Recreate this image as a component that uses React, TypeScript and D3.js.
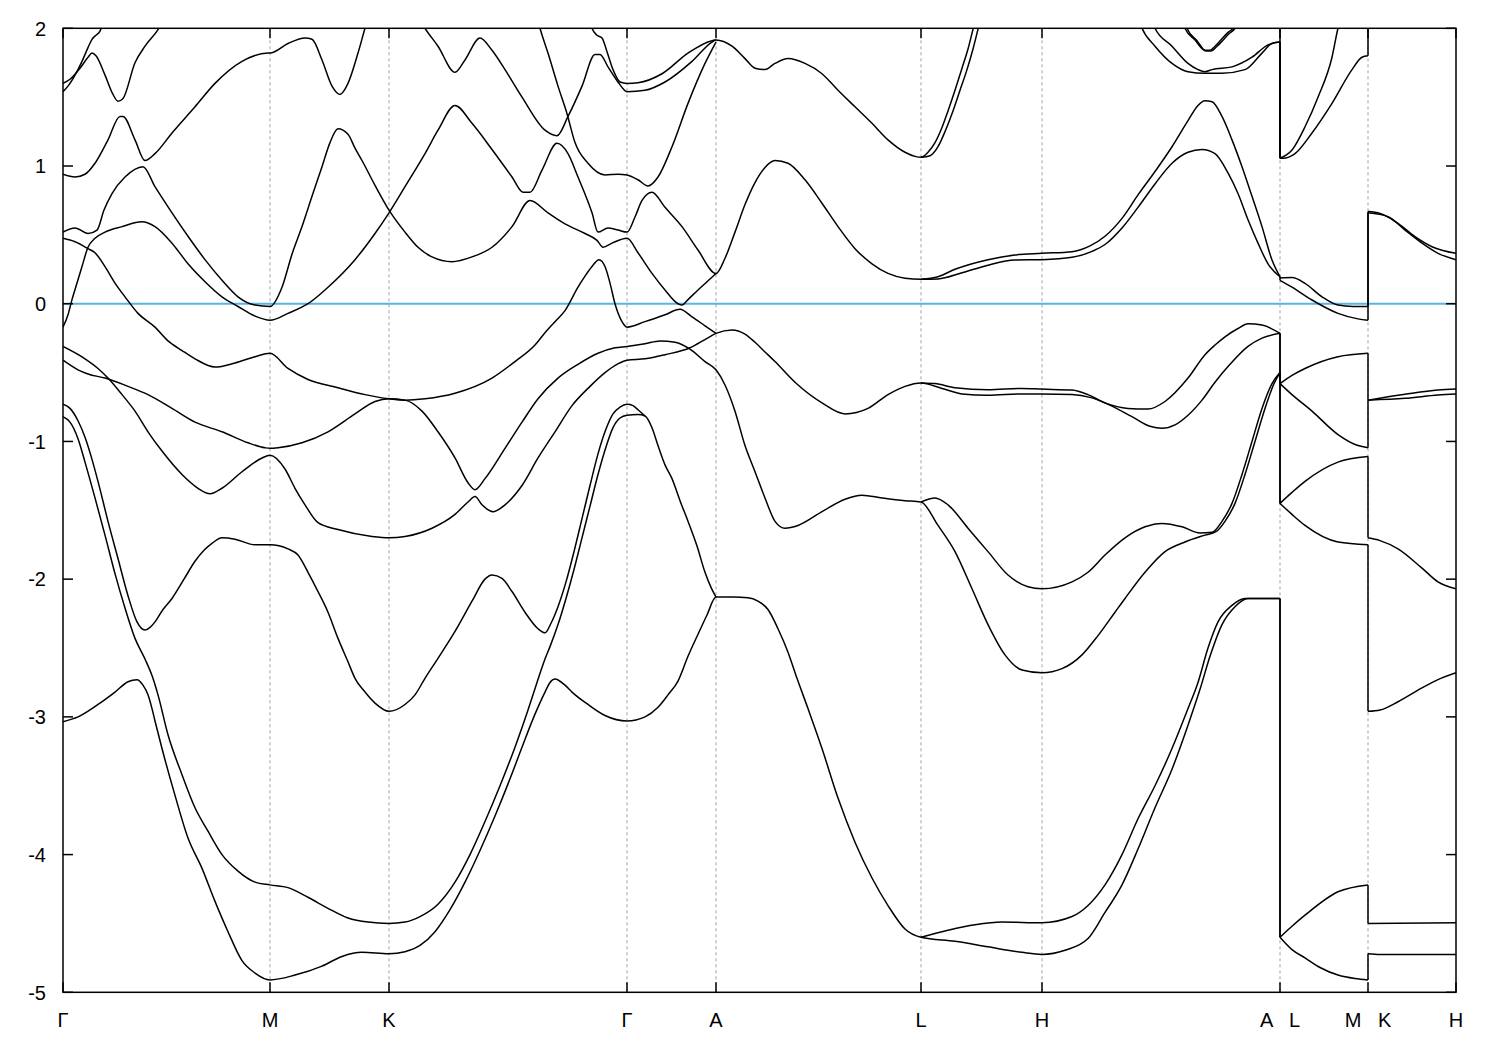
import React from 'react';
import * as d3 from 'd3';

type Pt = [number, number];

// k-path coordinate of high-symmetry points and labels
const kTicks = [0, 2.07, 3.26, 5.64, 6.53, 8.58, 9.79, 12.17, 13.05, 13.93];
const kLabels = ['Γ', 'M', 'K', 'Γ', 'A', 'L', 'H', 'A   L', 'M   K', 'H'];
const eTicks = [-5, -4, -3, -2, -1, 0, 1, 2];
const eDomain: [number, number] = [-5, 2];
const fermiLevel = 0;

// bands: [k, E]; equal consecutive k = discontinuity jump
const b01: Pt[] = [
  [0, -3.035], [0.15, -3.0], [0.35, -2.91], [0.52, -2.82], [0.65, -2.745], [0.74, -2.73], [0.80, -2.77], [0.85, -2.84], [0.89, -2.94], [0.92, -3.03], [0.99, -3.23], [1.12, -3.57], [1.25, -3.88], [1.39, -4.10], [1.52, -4.34], [1.65, -4.56], [1.79, -4.77], [1.92, -4.86], [2.07, -4.91],
  [2.32, -4.875], [2.59, -4.81], [2.79, -4.74], [2.99, -4.71], [3.26, -4.72],
  [3.42, -4.705], [3.57, -4.66], [3.72, -4.56], [3.87, -4.40], [4.02, -4.20], [4.17, -3.97], [4.32, -3.72], [4.47, -3.45], [4.59, -3.22], [4.72, -2.98], [4.82, -2.82], [4.87, -2.75], [4.92, -2.725], [5.02, -2.77], [5.09, -2.82], [5.25, -2.91], [5.42, -2.99], [5.64, -3.03],
  [5.82, -3.0], [5.95, -2.93], [6.05, -2.84], [6.15, -2.74], [6.25, -2.56], [6.35, -2.40], [6.44, -2.26], [6.53, -2.13],
  [6.70, -2.13], [6.85, -2.135], [6.95, -2.16], [7.05, -2.22], [7.15, -2.36], [7.25, -2.53], [7.34, -2.72], [7.45, -2.94], [7.59, -3.23], [7.75, -3.59], [7.92, -3.91], [8.09, -4.17], [8.25, -4.37], [8.42, -4.54], [8.58, -4.60],
  [8.92, -4.63], [9.25, -4.67], [9.59, -4.71], [9.79, -4.725],
  [10.02, -4.695], [10.25, -4.61], [10.42, -4.42], [10.59, -4.22], [10.75, -3.96], [10.92, -3.66], [11.09, -3.38], [11.25, -3.06], [11.37, -2.80], [11.47, -2.56], [11.59, -2.33], [11.72, -2.20], [11.85, -2.14], [12.17, -2.14],
  [12.17, -4.60], [12.29, -4.69], [12.42, -4.75], [12.57, -4.82], [12.75, -4.875], [12.92, -4.90], [13.05, -4.91],
  [13.05, -4.72], [13.17, -4.725], [13.93, -4.725],
];
const b02: Pt[] = [
  [0, -0.82], [0.07, -0.86], [0.15, -0.98], [0.22, -1.15], [0.32, -1.41], [0.42, -1.68], [0.52, -1.96], [0.62, -2.21], [0.72, -2.43], [0.82, -2.58], [0.89, -2.70], [0.95, -2.84], [1.05, -3.13], [1.19, -3.42], [1.32, -3.66], [1.45, -3.83], [1.59, -4.0], [1.75, -4.12], [1.92, -4.20], [2.07, -4.22],
  [2.25, -4.24], [2.45, -4.31], [2.65, -4.39], [2.85, -4.46], [3.05, -4.49], [3.26, -4.50],
  [3.42, -4.49], [3.57, -4.45], [3.75, -4.36], [3.92, -4.20], [4.07, -4.0], [4.22, -3.76], [4.37, -3.50], [4.52, -3.22], [4.65, -2.95], [4.74, -2.75], [4.82, -2.58], [4.87, -2.49], [4.95, -2.33], [5.03, -2.14], [5.11, -1.93], [5.19, -1.70], [5.27, -1.47], [5.35, -1.24], [5.43, -1.04], [5.50, -0.90], [5.57, -0.83], [5.64, -0.81],
  [5.75, -0.805], [5.82, -0.815], [5.89, -0.9], [5.95, -1.03], [6.02, -1.17], [6.09, -1.27], [6.17, -1.43], [6.25, -1.58], [6.34, -1.76], [6.42, -1.95], [6.48, -2.06], [6.53, -2.13],
];
const b02r: Pt[] = [
  [8.58, -4.60], [8.85, -4.55], [9.12, -4.51], [9.39, -4.49], [9.79, -4.495],
  [10.09, -4.45], [10.25, -4.37], [10.42, -4.22], [10.59, -4.0], [10.75, -3.74], [10.92, -3.50], [11.09, -3.23], [11.25, -2.94], [11.35, -2.75], [11.45, -2.50], [11.55, -2.31], [11.69, -2.19], [11.82, -2.14], [12.17, -2.14],
  [12.17, -4.60], [12.29, -4.52], [12.42, -4.44], [12.75, -4.27], [13.05, -4.22],
  [13.05, -4.50], [13.93, -4.495],
];
const b03: Pt[] = [
  [0, -0.73], [0.07, -0.76], [0.15, -0.85], [0.22, -0.97], [0.29, -1.13], [0.35, -1.29], [0.45, -1.58], [0.55, -1.85], [0.65, -2.12], [0.74, -2.31], [0.82, -2.37], [0.87, -2.35], [0.92, -2.31], [1.00, -2.22], [1.09, -2.14], [1.21, -2.0], [1.32, -1.87], [1.41, -1.79], [1.49, -1.74], [1.59, -1.70], [1.72, -1.71], [1.92, -1.75], [2.07, -1.75],
  [2.25, -1.78], [2.35, -1.825], [2.45, -1.95], [2.55, -2.09], [2.65, -2.24], [2.75, -2.43], [2.85, -2.60], [2.92, -2.72], [3.02, -2.82], [3.12, -2.90], [3.26, -2.96],
  [3.42, -2.91], [3.52, -2.84], [3.62, -2.72], [3.75, -2.575], [3.92, -2.38], [4.09, -2.16], [4.22, -2.0], [4.29, -1.97], [4.39, -1.995], [4.49, -2.09], [4.62, -2.24], [4.75, -2.36], [4.82, -2.39], [4.88, -2.32], [4.95, -2.20], [5.03, -2.02], [5.11, -1.80], [5.19, -1.56], [5.27, -1.32], [5.35, -1.09], [5.43, -0.91], [5.50, -0.80], [5.57, -0.75], [5.64, -0.73],
  [5.70, -0.74], [5.75, -0.77], [5.82, -0.815],
];
const b03r: Pt[] = [
  [8.58, -1.44], [8.72, -1.41], [8.85, -1.46], [9.05, -1.63], [9.25, -1.80], [9.45, -1.97], [9.65, -2.055], [9.79, -2.07],
  [10.09, -2.02], [10.25, -1.95], [10.42, -1.825], [10.62, -1.70], [10.82, -1.62], [10.99, -1.595], [11.19, -1.62], [11.37, -1.665], [11.49, -1.66], [11.59, -1.58], [11.69, -1.45], [11.79, -1.24], [11.89, -1.0], [11.99, -0.76], [12.09, -0.58], [12.17, -0.50],
  [12.17, -1.45], [12.29, -1.37], [12.42, -1.29], [12.75, -1.15], [13.05, -1.11],
  [13.05, -1.70], [13.17, -1.72], [13.35, -1.78], [13.59, -1.92], [13.75, -2.02], [13.93, -2.07],
];
const b04: Pt[] = [
  [0, -0.31], [0.22, -0.40], [0.35, -0.47], [0.45, -0.54], [0.59, -0.66], [0.72, -0.78], [0.85, -0.93], [0.99, -1.07], [1.19, -1.24], [1.35, -1.34], [1.47, -1.38], [1.59, -1.34], [1.79, -1.22], [1.99, -1.12], [2.07, -1.10],
  [2.22, -1.20], [2.32, -1.34], [2.42, -1.46], [2.55, -1.59], [2.75, -1.64], [3.09, -1.69], [3.26, -1.70],
  [3.42, -1.69], [3.69, -1.63], [3.92, -1.53], [4.05, -1.44], [4.12, -1.40], [4.19, -1.46], [4.30, -1.51], [4.42, -1.46], [4.59, -1.32], [4.75, -1.12], [4.92, -0.93], [5.09, -0.74], [5.27, -0.60], [5.42, -0.50], [5.54, -0.44], [5.64, -0.41],
  [5.82, -0.40], [6.02, -0.37], [6.27, -0.32], [6.42, -0.26], [6.53, -0.215],
  [6.69, -0.19], [6.82, -0.22], [6.92, -0.28], [7.02, -0.35], [7.12, -0.42], [7.32, -0.57], [7.59, -0.72], [7.82, -0.80], [8.05, -0.76], [8.25, -0.66], [8.42, -0.60], [8.58, -0.575],
  [8.79, -0.615], [8.99, -0.655], [9.25, -0.665], [9.59, -0.655], [9.79, -0.655],
  [10.09, -0.66], [10.27, -0.68], [10.42, -0.72], [10.69, -0.82], [10.87, -0.89], [10.99, -0.905], [11.12, -0.88], [11.25, -0.81], [11.39, -0.70], [11.52, -0.57], [11.67, -0.44], [11.85, -0.31], [11.99, -0.25], [12.17, -0.215],
  [12.17, -0.58], [12.29, -0.66], [12.49, -0.78], [12.75, -0.95], [12.95, -1.03], [13.05, -1.046],
  [13.05, -0.70], [13.42, -0.687], [13.75, -0.663], [13.93, -0.655],
];
const b05: Pt[] = [
  [0, -0.41], [0.15, -0.48], [0.25, -0.51], [0.42, -0.54], [0.65, -0.60], [0.85, -0.66], [1.09, -0.76], [1.32, -0.86], [1.59, -0.93], [1.85, -1.01], [2.02, -1.046], [2.07, -1.05], [2.15, -1.046], [2.39, -1.01], [2.65, -0.93], [2.92, -0.80], [3.12, -0.71], [3.26, -0.69],
  [3.42, -0.70], [3.59, -0.78], [3.75, -0.93], [3.92, -1.12], [4.05, -1.30], [4.12, -1.35], [4.22, -1.27], [4.42, -1.05], [4.59, -0.86], [4.75, -0.69], [4.95, -0.54], [5.15, -0.44], [5.35, -0.36], [5.52, -0.32], [5.64, -0.31],
  [5.82, -0.29], [5.97, -0.27], [6.12, -0.28], [6.27, -0.33], [6.42, -0.42], [6.53, -0.48],
  [6.62, -0.59], [6.72, -0.78], [6.82, -1.03], [6.92, -1.22], [7.02, -1.41], [7.12, -1.58], [7.22, -1.63], [7.35, -1.61], [7.59, -1.51], [7.82, -1.42], [7.99, -1.39], [8.19, -1.41], [8.42, -1.43], [8.58, -1.44],
  [8.75, -1.61], [8.92, -1.80], [9.09, -2.07], [9.25, -2.33], [9.42, -2.55], [9.59, -2.66], [9.79, -2.68],
  [9.99, -2.65], [10.19, -2.55], [10.35, -2.41], [10.52, -2.24], [10.62, -2.14], [10.82, -1.95], [11.02, -1.80], [11.22, -1.73], [11.42, -1.68], [11.53, -1.655], [11.62, -1.58], [11.72, -1.45], [11.82, -1.24], [11.92, -1.0], [12.02, -0.76], [12.11, -0.58], [12.17, -0.50],
  [12.17, -1.45], [12.29, -1.53], [12.42, -1.61], [12.75, -1.73], [13.05, -1.75],
  [13.05, -2.96], [13.17, -2.95], [13.35, -2.89], [13.59, -2.79], [13.75, -2.73], [13.93, -2.68],
];
const b06: Pt[] = [
  [0, 0.475], [0.12, 0.45], [0.25, 0.40], [0.32, 0.37], [0.42, 0.27], [0.52, 0.15], [0.62, 0.05], [0.75, -0.07], [0.92, -0.17], [1.05, -0.27], [1.19, -0.34], [1.32, -0.40], [1.52, -0.46], [1.72, -0.43], [1.92, -0.385], [2.07, -0.36],
  [2.25, -0.47], [2.45, -0.55], [2.75, -0.61], [3.02, -0.66], [3.26, -0.69],
  [3.42, -0.70], [3.62, -0.69], [3.92, -0.65], [4.29, -0.54], [4.52, -0.42], [4.72, -0.30], [4.82, -0.21], [4.92, -0.13], [5.02, -0.05], [5.15, 0.12], [5.22, 0.20], [5.29, 0.27], [5.36, 0.32], [5.42, 0.27], [5.47, 0.15], [5.52, 0.0], [5.59, -0.13], [5.64, -0.17],
  [5.82, -0.13], [6.02, -0.08], [6.17, -0.04], [6.29, -0.095], [6.42, -0.16], [6.53, -0.215],
];
const b06r: Pt[] = [
  [8.58, -0.575], [8.72, -0.58], [8.92, -0.61], [9.25, -0.625], [9.59, -0.615], [9.79, -0.62],
  [10.09, -0.627], [10.25, -0.66], [10.42, -0.72], [10.65, -0.76], [10.85, -0.765], [11.02, -0.71], [11.25, -0.54], [11.42, -0.37], [11.52, -0.30], [11.62, -0.24], [11.75, -0.18], [11.85, -0.145], [11.99, -0.155], [12.17, -0.215],
  [12.17, -0.58], [12.29, -0.52], [12.42, -0.47], [12.75, -0.385], [13.05, -0.36],
  [13.05, -0.70], [13.42, -0.658], [13.75, -0.627], [13.93, -0.62],
];
const b07: Pt[] = [
  [0, -0.17], [0.05, -0.08], [0.09, 0.03], [0.14, 0.15], [0.19, 0.27], [0.25, 0.41], [0.32, 0.475], [0.42, 0.52], [0.59, 0.56], [0.79, 0.595], [0.92, 0.56], [1.09, 0.44], [1.25, 0.29], [1.42, 0.16], [1.59, 0.05], [1.75, -0.02], [1.92, -0.09], [2.07, -0.12],
  [2.25, -0.07], [2.45, 0.0], [2.65, 0.12], [2.92, 0.32], [3.12, 0.51], [3.26, 0.66],
  [3.42, 0.85], [3.62, 1.09], [3.75, 1.26], [3.92, 1.44], [4.09, 1.31], [4.29, 1.12], [4.49, 0.92], [4.60, 0.81], [4.67, 0.81], [4.79, 0.97], [4.94, 1.165], [5.05, 1.09], [5.15, 0.92], [5.29, 0.66], [5.35, 0.52], [5.45, 0.55], [5.55, 0.535], [5.64, 0.52],
  [5.72, 0.63], [5.79, 0.75], [5.89, 0.81], [6.02, 0.70], [6.19, 0.56], [6.35, 0.39], [6.53, 0.22],
  [6.62, 0.33], [6.72, 0.52], [6.82, 0.72], [6.92, 0.88], [7.02, 0.99], [7.12, 1.04], [7.25, 1.02], [7.42, 0.90], [7.59, 0.73], [7.75, 0.56], [7.92, 0.40], [8.09, 0.29], [8.25, 0.22], [8.42, 0.185], [8.58, 0.177],
  [8.75, 0.18], [8.99, 0.225], [9.25, 0.28], [9.52, 0.317], [9.79, 0.32],
  [10.09, 0.337], [10.29, 0.38], [10.42, 0.43], [10.59, 0.55], [10.75, 0.70], [10.92, 0.87], [11.09, 1.02], [11.25, 1.10], [11.39, 1.12], [11.52, 1.09], [11.65, 0.95], [11.75, 0.80], [11.85, 0.61], [11.95, 0.44], [12.05, 0.29], [12.17, 0.196],
  [12.17, 0.17], [12.29, 0.12], [12.49, 0.027], [12.75, -0.07], [12.95, -0.11], [13.05, -0.12],
  [13.05, 0.66], [13.25, 0.632], [13.42, 0.535], [13.59, 0.44], [13.75, 0.366], [13.93, 0.32],
];
const b08: Pt[] = [
  [0, 0.52], [0.12, 0.55], [0.25, 0.51], [0.34, 0.535], [0.41, 0.68], [0.49, 0.80], [0.62, 0.92], [0.80, 0.995], [0.92, 0.85], [1.09, 0.66], [1.25, 0.49], [1.42, 0.32], [1.59, 0.17], [1.75, 0.05], [1.92, -0.01], [2.07, -0.02],
  [2.19, 0.12], [2.29, 0.36], [2.39, 0.56], [2.49, 0.78], [2.59, 0.995], [2.67, 1.17], [2.75, 1.27], [2.85, 1.23], [2.92, 1.13], [2.99, 1.04], [3.12, 0.86], [3.26, 0.68],
  [3.42, 0.52], [3.55, 0.41], [3.69, 0.34], [3.89, 0.305], [4.09, 0.34], [4.29, 0.41], [4.49, 0.56], [4.67, 0.75], [4.85, 0.66], [5.02, 0.58], [5.22, 0.51], [5.34, 0.46], [5.40, 0.41], [5.49, 0.44], [5.64, 0.475],
  [5.75, 0.37], [5.89, 0.22], [6.02, 0.10], [6.15, 0.0], [6.19, -0.01], [6.25, 0.03], [6.35, 0.10], [6.44, 0.16], [6.53, 0.22],
];
const b08r: Pt[] = [
  [8.58, 0.177], [8.75, 0.196], [8.92, 0.25], [9.25, 0.32], [9.52, 0.354], [9.79, 0.366],
  [10.09, 0.378], [10.27, 0.42], [10.42, 0.49], [10.59, 0.62], [10.75, 0.79], [10.92, 0.96], [11.09, 1.14], [11.25, 1.33], [11.35, 1.44], [11.42, 1.474], [11.49, 1.467], [11.59, 1.36], [11.69, 1.19], [11.79, 0.995], [11.89, 0.78], [11.99, 0.56], [12.09, 0.317], [12.17, 0.196],
  [12.17, 0.187], [12.29, 0.19], [12.42, 0.148], [12.59, 0.05], [12.75, -0.01], [12.90, -0.02], [13.05, -0.02],
  [13.05, 0.67], [13.17, 0.656], [13.35, 0.584], [13.52, 0.487], [13.69, 0.414], [13.93, 0.366],
];
const b09: Pt[] = [
  [0, 0.94], [0.12, 0.92], [0.22, 0.94], [0.32, 1.02], [0.45, 1.19], [0.57, 1.36], [0.60, 1.36], [0.72, 1.19], [0.82, 1.04], [0.92, 1.09], [1.09, 1.24], [1.32, 1.43], [1.52, 1.60], [1.79, 1.76], [2.05, 1.82], [2.07, 1.82],
  [2.25, 1.89], [2.42, 1.93], [2.49, 1.92], [2.59, 1.77], [2.69, 1.58], [2.77, 1.52], [2.85, 1.60], [2.95, 1.82], [3.02, 2.0], [3.07, 2.12],
];
const b10: Pt[] = [
  [0, 1.6], [0.07, 1.63], [0.17, 1.71], [0.25, 1.79], [0.29, 1.82], [0.33, 1.80], [0.42, 1.66], [0.50, 1.52], [0.55, 1.47], [0.60, 1.49], [0.72, 1.75], [0.82, 1.87], [0.95, 1.99], [1.02, 2.08],
];
const b11: Pt[] = [
  [0, 1.54], [0.05, 1.58], [0.12, 1.66], [0.19, 1.76], [0.25, 1.86], [0.29, 1.92], [0.33, 1.95], [0.37, 1.98], [0.41, 2.06],
];
const b12: Pt[] = [
  [3.47, 2.2], [3.62, 2.0], [3.75, 1.87], [3.92, 1.68], [4.02, 1.77], [4.17, 1.93], [4.29, 1.84], [4.42, 1.70], [4.59, 1.50], [4.82, 1.26], [4.94, 1.22], [5.05, 1.36], [5.19, 1.58], [5.32, 1.81], [5.37, 1.81], [5.45, 1.72], [5.55, 1.61], [5.64, 1.54],
  [5.82, 1.55], [6.02, 1.61], [6.29, 1.76], [6.49, 1.90], [6.53, 1.915],
  [6.69, 1.87], [6.82, 1.78], [6.92, 1.71], [7.02, 1.70], [7.12, 1.745], [7.25, 1.78], [7.42, 1.745], [7.59, 1.67], [7.75, 1.55], [7.92, 1.43], [8.09, 1.31], [8.25, 1.19], [8.42, 1.10], [8.52, 1.07], [8.58, 1.063],
  [8.65, 1.10], [8.72, 1.17], [8.79, 1.28], [8.85, 1.40], [8.92, 1.55], [8.99, 1.71], [9.05, 1.85], [9.11, 2.02], [9.15, 2.12],
];
const b13: Pt[] = [
  [5.24, 2.15], [5.29, 2.0], [5.34, 1.95], [5.39, 1.93], [5.44, 1.83], [5.50, 1.70], [5.57, 1.61], [5.64, 1.60], [5.75, 1.605], [5.99, 1.67], [6.25, 1.82], [6.49, 1.91], [6.53, 1.915],
];
const b13r: Pt[] = [
  [8.58, 1.063], [8.67, 1.075], [8.75, 1.14], [8.82, 1.25], [8.89, 1.38], [8.97, 1.55], [9.04, 1.70], [9.10, 1.85], [9.16, 2.02], [9.20, 2.12],
];
const b14: Pt[] = [
  [4.70, 2.2], [4.77, 2.0], [4.85, 1.82], [4.95, 1.58], [5.04, 1.38], [5.12, 1.17], [5.25, 1.02], [5.42, 0.935], [5.55, 0.94], [5.64, 0.935], [5.75, 0.90], [5.85, 0.855], [5.95, 0.92], [6.09, 1.14], [6.25, 1.455], [6.42, 1.745], [6.53, 1.90],
];
const b15: Pt[] = [
  [10.72, 2.15], [10.79, 2.0], [10.92, 1.87], [11.09, 1.745], [11.25, 1.685], [11.42, 1.674], [11.59, 1.674], [11.82, 1.70], [11.99, 1.82], [12.09, 1.89], [12.17, 1.90],
  [12.17, 1.056], [12.20, 1.056], [12.32, 1.09], [12.49, 1.24], [12.69, 1.455], [12.89, 1.70], [12.99, 1.79], [13.05, 1.80],
  [13.05, 2.3], [13.93, 2.3],
];
const b16: Pt[] = [
  [10.85, 2.15], [10.92, 2.0], [11.09, 1.87], [11.25, 1.745], [11.35, 1.70], [11.42, 1.685], [11.49, 1.70], [11.69, 1.72], [11.89, 1.79], [12.05, 1.88], [12.17, 1.90],
  [12.17, 1.056], [12.29, 1.116], [12.42, 1.285], [12.55, 1.50], [12.69, 1.79], [12.75, 2.0], [12.79, 2.1],
];
const b17: Pt[] = [
  [11.17, 2.15], [11.22, 2.0], [11.32, 1.915], [11.42, 1.84], [11.47, 1.84], [11.52, 1.87], [11.65, 1.97], [11.70, 2.0], [11.80, 2.2], [12.17, 2.5], [12.17, 1.056],
];
const b18: Pt[] = [
  [11.19, 2.15], [11.24, 2.0], [11.34, 1.91], [11.43, 1.835], [11.48, 1.835], [11.54, 1.87], [11.66, 1.96], [11.72, 2.0], [11.78, 2.1],
];

const bands: Pt[][] = [b01, b02, b02r, b03, b03r, b04, b05, b06, b06r, b07, b08, b08r, b09, b10, b11, b12, b13, b13r, b14, b15, b16, b17, b18];

function splitBand(band: Pt[]) {
  const segs: Pt[][] = [];
  const jumps: [Pt, Pt][] = [];
  let cur: Pt[] = [band[0]];
  for (let i = 1; i < band.length; i++) {
    const p = band[i];
    const q = band[i - 1];
    if (p[0] === q[0]) {
      segs.push(cur);
      jumps.push([q, p]);
      cur = [p];
    } else {
      cur.push(p);
    }
  }
  segs.push(cur);
  return { segs: segs.filter((s) => s.length > 1), jumps };
}

export default function App() {
  const left = 63;
  const right = 1456;
  const top = 28.3;
  const bottom = 992.3;
  const x = d3.scaleLinear().domain([kTicks[0], kTicks[kTicks.length - 1]]).range([left, right]);
  const y = d3.scaleLinear().domain(eDomain).range([bottom, top]);
  const smooth = d3.line<Pt>().x((d) => x(d[0])).y((d) => y(d[1])).curve(d3.curveMonotoneX);
  const straight = d3.line<Pt>().x((d) => x(d[0])).y((d) => y(d[1]));
  const tickLen = 10;
  const font = "'Liberation Sans', Arial, Helvetica, sans-serif";

  const paths: string[] = [];
  bands.forEach((b) => {
    const { segs, jumps } = splitBand(b);
    segs.forEach((s) => paths.push(smooth(s) as string));
    jumps.forEach((j) => paths.push(straight(j) as string));
  });

  return (
    <svg
      width={1500}
      height={1050}
      style={{ position: 'absolute', left: 0, top: 0, background: '#ffffff' }}
      fontFamily={font}
    >
      <rect x={0} y={0} width={1500} height={1050} fill="#ffffff" />
      <defs>
        <clipPath id="plotClip">
          <rect x={left} y={top} width={right - left} height={bottom - top} />
        </clipPath>
      </defs>
      {kTicks.slice(1, -1).map((k, i) => (
        <line key={'g' + i} x1={x(k)} x2={x(k)} y1={top} y2={bottom} stroke="#a0a0a0" strokeWidth={1} strokeDasharray="3,3" />
      ))}
      <line x1={left} x2={right} y1={y(fermiLevel)} y2={y(fermiLevel)} stroke="#56b4e9" strokeWidth={2} />
      <g clipPath="url(#plotClip)" fill="none" stroke="#000" strokeWidth={1.5} strokeLinejoin="round">
        {paths.map((d, i) => (
          <path key={'b' + i} d={d} />
        ))}
      </g>
      <rect x={left} y={top} width={right - left} height={bottom - top} fill="none" stroke="#000" strokeWidth={1.5} />
      {eTicks.map((e) => (
        <g key={'y' + e}>
          <line x1={left} x2={left + tickLen} y1={y(e)} y2={y(e)} stroke="#000" strokeWidth={1.5} />
          <line x1={right - tickLen} x2={right} y1={y(e)} y2={y(e)} stroke="#000" strokeWidth={1.5} />
          <text x={left - 17} y={y(e)} dy="0.36em" textAnchor="end" fontSize={20} fill="#000">
            {String(e)}
          </text>
        </g>
      ))}
      {kTicks.map((k, i) => (
        <g key={'x' + i}>
          <line x1={x(k)} x2={x(k)} y1={bottom} y2={bottom - tickLen} stroke="#000" strokeWidth={1.5} />
          <line x1={x(k)} x2={x(k)} y1={top} y2={top + tickLen} stroke="#000" strokeWidth={1.5} />
          <text
            x={x(k)}
            y={bottom + 35}
            textAnchor="middle"
            fontSize={20}
            fill="#000"
            xmlSpace="preserve"
            style={{ whiteSpace: 'pre' }}
          >
            {kLabels[i]}
          </text>
        </g>
      ))}
    </svg>
  );
}
